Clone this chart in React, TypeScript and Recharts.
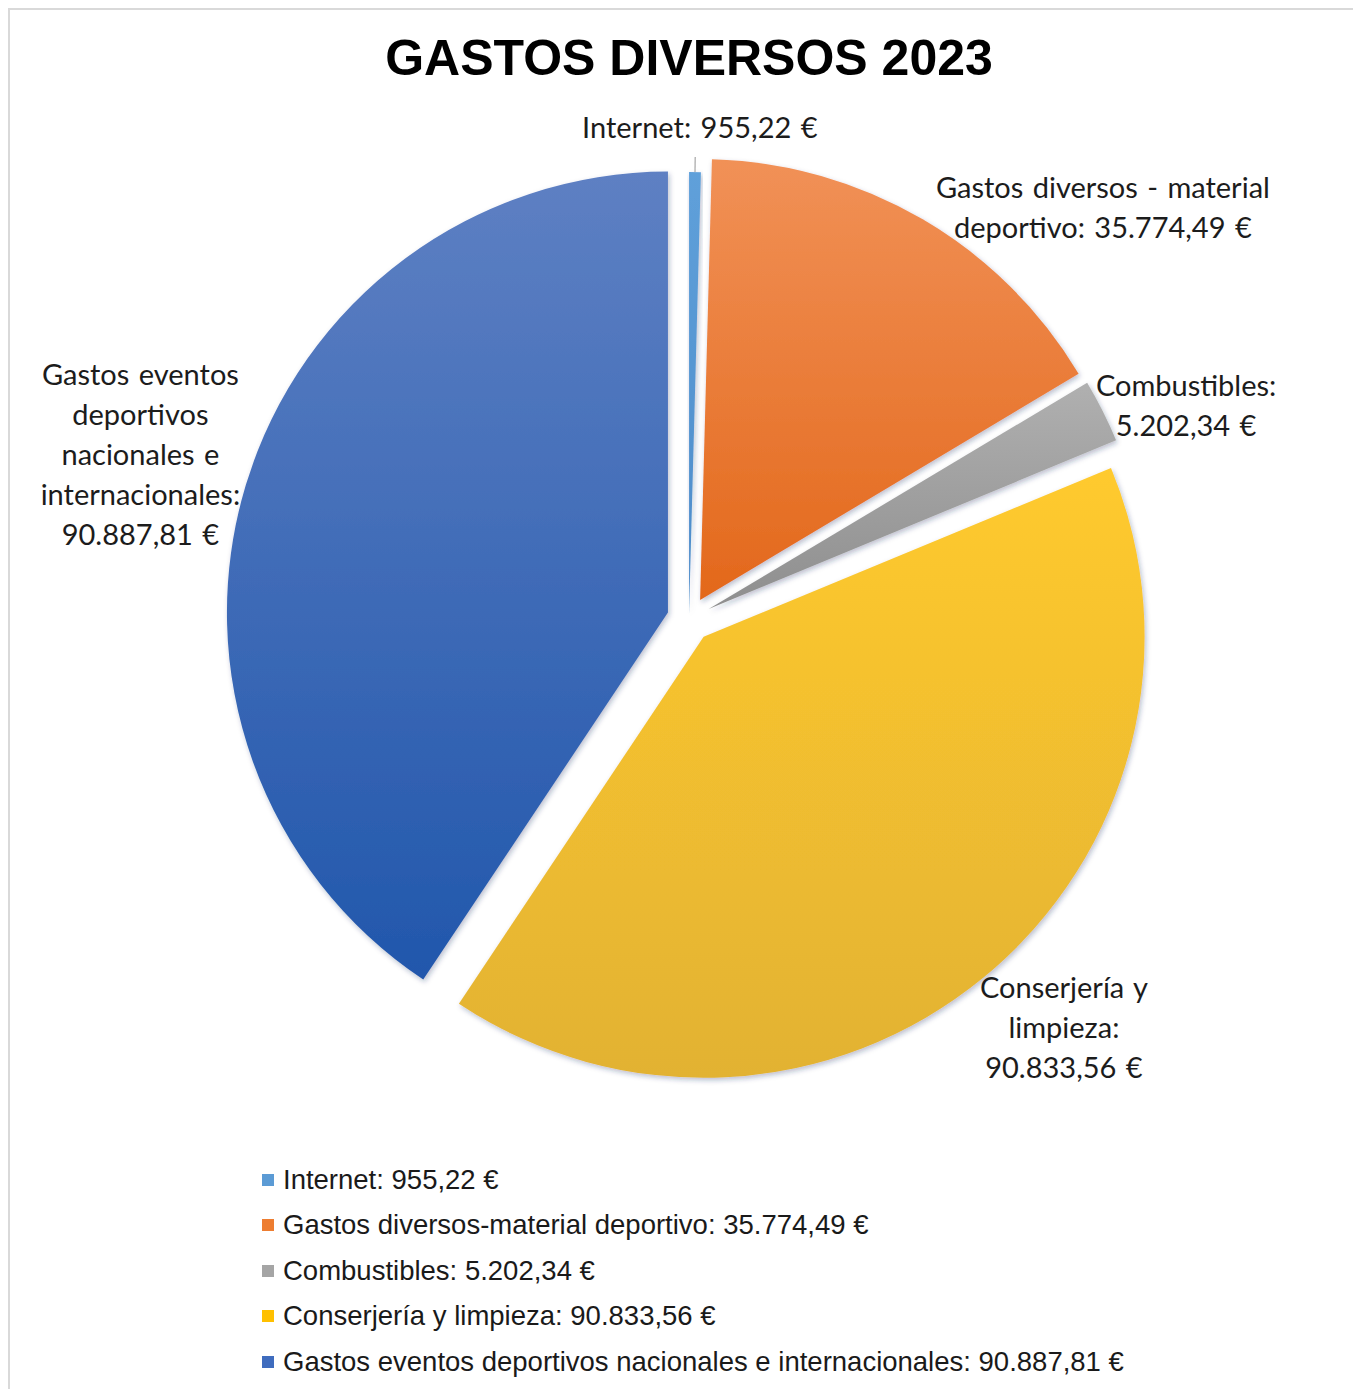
import { Cell, Legend, Pie, PieChart } from "recharts";

// Gastos diversos 2023 – exploded pie, clockwise from 12 o'clock.

const NAMES = [
  "Internet",
  "Gastos diversos-material deportivo",
  "Combustibles",
  "Conserjería y limpieza",
  "Gastos eventos deportivos nacionales e internacionales",
];
const VALUES = [955.22, 35774.49, 5202.34, 90833.56, 90887.81];

// how Excel wrapped the data labels
const LABEL_LINES = [
  ["Internet:"],
  ["Gastos diversos - material", "deportivo:"],
  ["Combustibles:"],
  ["Conserjería y", "limpieza:"],
  ["Gastos eventos", "deportivos", "nacionales e", "internacionales:"],
];
const VALUE_INLINE = [true, true, false, false, false];

const MARKER = ["#5B9BD5", "#ED7D31", "#A5A5A5", "#FFC000", "#3F6CBE"];
const GRAD = [
  ["#5FA0DA", "#4C8BC9"],
  ["#F19157", "#E3681B"],
  ["#B0B0B0", "#8E8E8E"],
  ["#FFCA2E", "#E2B231"],
  ["#5E80C3", "#2157AC"],
];

// layout
const W = 1351;
const H = 1379;
const CX = 679;
const CY = 609;
const R = 441;
const EXPLODE = [6, 22, 22, 23, 22];
const LABEL_RADIUS = [489, 582, 540, 556, 572];
const LABEL_SHIFT = [0.5, 15, 3.7, -3, -0.4];
const LABEL_FONT = "Lato, 'Open Sans', sans-serif";
const LEGEND_FONT = "'Liberation Sans', Arial, sans-serif";

const data = NAMES.map((name, i) => ({ name, value: VALUES[i] }));
const TOTAL = VALUES.reduce((a, b) => a + b, 0);
// mid angle of each slice, degrees clockwise from top
const MID = VALUES.map((v, i) => {
  const before = VALUES.slice(0, i).reduce((a, b) => a + b, 0);
  return ((before + v / 2) / TOTAL) * 360;
});
const RAD = Math.PI / 180;

function eur(v: number) {
  const [int, dec] = v.toFixed(2).split(".");
  return int.replace(/\B(?=(\d{3})+(?!\d))/g, ".") + "," + dec + " €";
}

function renderLabel(props: any) {
  const i = props.index;
  const theta = 90 - props.midAngle + LABEL_SHIFT[i];
  const x = CX + LABEL_RADIUS[i] * Math.sin(theta * RAD);
  const y = CY - LABEL_RADIUS[i] * Math.cos(theta * RAD) - 4;
  const lines = [...LABEL_LINES[i]];
  if (VALUE_INLINE[i]) lines[lines.length - 1] += " " + eur(VALUES[i]);
  else lines.push(eur(VALUES[i]));
  const lh = 40;
  const y0 = y - ((lines.length - 1) * lh) / 2;

  let leader = null;
  if (i === 0) {
    const t = (90 - props.midAngle) * RAD;
    const ox = CX + EXPLODE[0] * Math.sin(t);
    const oy = CY - EXPLODE[0] * Math.cos(t);
    leader = (
      <line
        x1={ox + R * Math.sin(t)}
        y1={oy - R * Math.cos(t)}
        x2={ox + (R + 15) * Math.sin(t)}
        y2={oy - (R + 15) * Math.cos(t)}
        stroke="#a6a6a6"
        strokeWidth={1.2}
      />
    );
  }

  return (
    <g key={`lbl-${i}`}>
      {leader}
      <text
        x={x}
        y={y0}
        textAnchor="middle"
        dominantBaseline="central"
        fontFamily={LABEL_FONT}
        fontSize={29}
        fill="#1c1c1c"
        wordSpacing={2}
      >
        {lines.map((l, k) => (
          <tspan key={k} x={x} y={y0 + k * lh}>
            {l}
          </tspan>
        ))}
      </text>
    </g>
  );
}

function LegendBox() {
  return (
    <ul style={{ listStyle: "none", margin: 0, padding: 0 }}>
      {NAMES.map((n, i) => (
        <li
          key={n}
          style={{
            height: 45.5,
            display: "flex",
            alignItems: "center",
            fontFamily: LEGEND_FONT,
            fontSize: 27.5,
            color: "#1a1a1a",
            whiteSpace: "nowrap",
          }}
        >
          <span
            style={{
              display: "inline-block",
              width: 12,
              height: 12,
              background: MARKER[i],
              marginRight: 9,
            }}
          />
          {n}: {eur(VALUES[i])}
        </li>
      ))}
    </ul>
  );
}

export default function App() {
  return (
    <div
      style={{
        width: W,
        height: H,
        borderTop: "2px solid #d9d9d9",
        borderLeft: "2px solid #d9d9d9",
        background: "#fff",
      }}
    >
      <PieChart width={W} height={H} margin={{ top: 0, right: 0, bottom: 0, left: 0 }}>
        <defs>
          {GRAD.map(([a, b], i) => (
            <linearGradient key={i} id={`g${i}`} x1="0" y1="0" x2="0" y2="1">
              <stop offset="0%" stopColor={a} />
              <stop offset="100%" stopColor={b} />
            </linearGradient>
          ))}
          <filter id="sh" x="-10%" y="-10%" width="125%" height="125%">
            <feDropShadow dx="1.5" dy="2.5" stdDeviation="2.5" floodColor="#203060" floodOpacity="0.3" />
          </filter>
        </defs>
        <text
          x={CX}
          y={65}
          textAnchor="middle"
          fontFamily={LEGEND_FONT}
          fontWeight="bold"
          fontSize={50}
          fill="#000"
        >
          GASTOS DIVERSOS 2023
        </text>
        {NAMES.map((_, j) => (
          <Pie
            key={j}
            data={data}
            dataKey="value"
            nameKey="name"
            cx={CX + EXPLODE[j] * Math.sin(MID[j] * RAD)}
            cy={CY - EXPLODE[j] * Math.cos(MID[j] * RAD)}
            innerRadius={0}
            outerRadius={R}
            startAngle={90}
            endAngle={-270}
            stroke="none"
            legendType="none"
            labelLine={false}
            label={j === 0 ? renderLabel : false}
            isAnimationActive={false}
          >
            {data.map((_, i) => (
              <Cell
                key={i}
                fill={i === j ? `url(#g${i})` : "none"}
                filter={i === j ? "url(#sh)" : undefined}
              />
            ))}
          </Pie>
        ))}
        <Legend
          content={() => <LegendBox />}
          wrapperStyle={{ left: 252, top: 1147, width: 1000, height: 230 }}
        />
      </PieChart>
    </div>
  );
}
